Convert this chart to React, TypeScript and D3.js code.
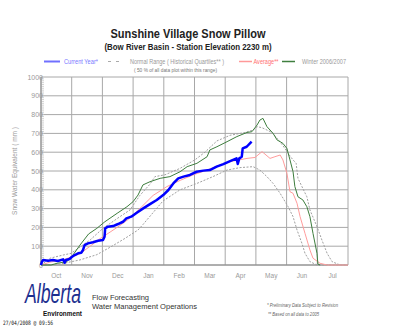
import React from "react";
import * as d3 from "d3";

const months = ["Oct", "Nov", "Dec", "Jan", "Feb", "Mar", "Apr", "May", "Jun", "Jul"];
const yTicks = [0, 100, 200, 300, 400, 500, 600, 700, 800, 900, 1000];

// [months since Oct 1, snow water equivalent mm]
const currentYear: [number, number][] = [
  [0, 0], [0.03, 18], [0.07, 27], [0.23, 23], [0.39, 27], [0.55, 21], [0.72, 30], [0.77, 12], [0.81, 27],
  [0.93, 32], [0.99, 41], [1.1, 53], [1.21, 62], [1.31, 65], [1.37, 80], [1.42, 106], [1.53, 115],
  [1.69, 121], [1.86, 129], [2.02, 133], [2.07, 150], [2.09, 195], [2.18, 204], [2.35, 207], [2.51, 218],
  [2.67, 230], [2.78, 248], [2.94, 257], [3.12, 278], [3.33, 301], [3.55, 324], [3.77, 346], [3.98, 372],
  [4.15, 399], [4.31, 434], [4.47, 461], [4.64, 470], [4.85, 479], [5.07, 496], [5.29, 502], [5.5, 505],
  [5.72, 523], [5.94, 537], [6.16, 553], [6.37, 567], [6.41, 537], [6.46, 567], [6.54, 576], [6.57, 620],
  [6.7, 629], [6.86, 656],
];

const winter0607: [number, number][] = [
  [0, 0], [0.33, 0], [0.52, 9], [0.85, 18], [1.04, 53], [1.27, 106], [1.55, 165], [1.82, 195], [2.08, 230],
  [2.48, 275], [2.8, 310], [3.0, 337], [3.16, 372], [3.32, 426], [3.55, 443], [3.88, 461], [4.2, 470],
  [4.53, 496], [4.76, 523], [5.08, 541], [5.41, 576], [5.5, 612], [5.73, 629], [6.06, 656], [6.38, 683],
  [6.71, 705], [6.87, 709], [7.04, 745], [7.13, 771], [7.23, 780], [7.36, 736], [7.56, 700], [7.69, 665],
  [7.79, 656], [7.88, 647], [8.01, 620], [8.11, 559], [8.21, 496], [8.27, 417], [8.37, 363], [8.53, 346],
  [8.66, 310], [8.76, 257], [8.86, 168], [8.99, 62], [9.02, 5], [9.09, 0],
];

const upperQuartile: [number, number][] = [
  [0, 0], [0.13, 15], [0.29, 36], [0.72, 53], [0.98, 62], [1.17, 84], [1.6, 133], [2.02, 195], [2.57, 257],
  [2.9, 293], [3.22, 370], [3.55, 430], [3.71, 470], [4.04, 480], [4.53, 514], [5.02, 560], [5.34, 600],
  [5.73, 660], [6.16, 690], [6.65, 705], [6.91, 718], [7.04, 736], [7.2, 730], [7.36, 718], [7.52, 705],
  [7.69, 674], [7.88, 635], [8.11, 580], [8.21, 559], [8.31, 541], [8.37, 461], [8.5, 417], [8.66, 363],
  [8.76, 293], [8.99, 204], [9.15, 133], [9.32, 62], [9.48, 18], [9.74, 0], [10, 0],
];

const lowerQuartile: [number, number][] = [
  [0, 0], [0.62, 5], [1.27, 27], [1.82, 55], [2.28, 97], [2.74, 142], [3.16, 186], [3.32, 215], [3.97, 340],
  [4.53, 400], [5.08, 434], [5.6, 470], [6.06, 505], [6.48, 518], [6.91, 523], [7.13, 505], [7.36, 470],
  [7.56, 434], [7.79, 381], [8.05, 310], [8.21, 257], [8.34, 186], [8.5, 115], [8.6, 62], [8.76, 18],
  [8.99, 0], [10, 0],
];

const average: [number, number][] = [
  [0, 0], [0.29, 15], [0.72, 27], [1.27, 60], [1.6, 100], [1.92, 140], [2.25, 175], [2.57, 210], [2.9, 250],
  [3.22, 300], [3.65, 370], [4.1, 417], [4.53, 450], [4.95, 479], [5.41, 505], [5.83, 532], [6.16, 550],
  [6.71, 567], [6.97, 572], [7.2, 603], [7.46, 567], [7.62, 576], [7.79, 585], [7.88, 559], [8.01, 488],
  [8.11, 390], [8.21, 381], [8.34, 328], [8.44, 257], [8.6, 168], [8.76, 80], [8.86, 36], [9.09, 9],
  [9.32, 0], [10, 0],
];

const FONT = "'Liberation Sans', Arial, sans-serif";

export default function App() {
  const x = d3.scaleLinear().domain([0, 10]).range([41, 348]);
  const y = d3.scaleLinear().domain([0, 1000]).range([265, 77]);
  const line = d3
    .line<[number, number]>()
    .x((d) => x(d[0]))
    .y((d) => y(d[1]));

  const minor = d3.range(0, 1000, 10);
  const grid = "#a8a8a8";
  const tickCol = "#9a9a9a";

  return (
    <svg
      width={400}
      height={330}
      style={{ position: "absolute", left: 0, top: 0, background: "#fff" }}
      fontFamily={FONT}
    >
      {/* title */}
      <text x={188} y={37.5} textAnchor="middle" fontSize={12} fontWeight="bold" fill="#222" textLength={155} lengthAdjust="spacingAndGlyphs">
        Sunshine Village Snow Pillow
      </text>
      <text x={188} y={50} textAnchor="middle" fontSize={8.5} fontWeight="bold" fill="#222" textLength={167} lengthAdjust="spacingAndGlyphs">
        (Bow River Basin - Station Elevation 2230 m)
      </text>

      {/* legend */}
      <line x1={44} x2={60} y1={61.5} y2={61.5} stroke="#7070ff" strokeWidth={2} />
      <text x={64} y={64} fontSize={6.5} fill="#7777ff" textLength={34} lengthAdjust="spacingAndGlyphs">Current Year*</text>
      <line x1={108} x2={120} y1={61.5} y2={61.5} stroke="#aaa" strokeWidth={1} strokeDasharray="3,5" />
      <text x={130} y={64} fontSize={6.5} fill="#999" textLength={94} lengthAdjust="spacingAndGlyphs">Normal Range ( Historical Quartiles** )</text>
      <text x={134} y={71.5} fontSize={5} fill="#777" textLength={83} lengthAdjust="spacingAndGlyphs">( 50 % of all data plot within this range)</text>
      <line x1={239} x2={252} y1={61.5} y2={61.5} stroke="#ff9999" strokeWidth={1.5} />
      <text x={253.5} y={64} fontSize={6.5} fill="#ff6f6f" textLength={25} lengthAdjust="spacingAndGlyphs">Average**</text>
      <line x1={282} x2={295} y1={61.5} y2={61.5} stroke="#3f7f3f" strokeWidth={1.5} />
      <text x={302} y={64} fontSize={6.5} fill="#9a9a9a" textLength={44} lengthAdjust="spacingAndGlyphs">Winter 2006/2007</text>

      {/* grid */}
      <g>
        {yTicks.map((t) => (
          <line key={"h" + t} x1={x(0)} x2={x(10)} y1={y(t)} y2={y(t)} stroke={grid} strokeWidth={1} />
        ))}
        {d3.range(0, 11).map((m) => (
          <line key={"v" + m} x1={x(m)} x2={x(m)} y1={y(0)} y2={y(1000)} stroke={grid} strokeWidth={1} />
        ))}
        {minor.map((t) => (
          <line key={"m" + t} x1={x(0)} x2={x(0) + 3} y1={y(t)} y2={y(t)} stroke="#c8c8c8" strokeWidth={0.8} />
        ))}
        <line x1={x(0)} x2={x(10)} y1={y(0)} y2={y(0)} stroke="#8a8a8a" strokeWidth={1} />
        <line x1={x(0)} x2={x(0)} y1={y(0)} y2={y(1000)} stroke="#8a8a8a" strokeWidth={1} />
      </g>

      {/* y tick labels */}
      {yTicks.map((t) => (
        <text key={"yl" + t} x={43} y={y(t) + 2.5} textAnchor="end" fontSize={7} fill={tickCol}>
          {t}
        </text>
      ))}
      <text
        transform={`translate(17,171) rotate(-90)`}
        textAnchor="middle"
        fontSize={6.5}
        fill={tickCol}
      >
        Snow Water Equivalent ( mm )
      </text>

      {/* month labels */}
      {months.map((m, i) => (
        <text key={m} x={x(i + 0.5)} y={277.5} textAnchor="middle" fontSize={6.5} fill={tickCol}>
          {m}
        </text>
      ))}

      {/* series */}
      <path d={line(lowerQuartile) || ""} fill="none" stroke="#a0a0a0" strokeWidth={1} strokeDasharray="2,1.5" />
      <path d={line(upperQuartile) || ""} fill="none" stroke="#a0a0a0" strokeWidth={1} strokeDasharray="2,1.5" />
      <path d={line(average) || ""} fill="none" stroke="#ff9c9c" strokeWidth={1} />
      <path d={line(winter0607) || ""} fill="none" stroke="#3d7d3d" strokeWidth={1} />
      <path d={line(currentYear) || ""} fill="none" stroke="#0000ff" strokeWidth={2.5} strokeLinejoin="round" />

      {/* footer */}
      <text transform="translate(25,303) scale(1,1.45)" fontSize={18.5} fontStyle="italic" fill="#1d2f8f" textLength={56} lengthAdjust="spacingAndGlyphs">
        Alberta
      </text>
      <text x={43} y={316} fontSize={7} fontWeight="bold" fill="#111" textLength={39} lengthAdjust="spacingAndGlyphs">
        Environment
      </text>
      <text x={92} y={300} fontSize={7.5} fill="#333" textLength={57} lengthAdjust="spacingAndGlyphs">
        Flow Forecasting
      </text>
      <text x={92} y={309} fontSize={7.5} fill="#333" textLength={105} lengthAdjust="spacingAndGlyphs">
        Water Management Operations
      </text>
      <text x={267} y={307} fontSize={4.8} fontStyle="italic" fill="#666" textLength={71} lengthAdjust="spacingAndGlyphs">
        *  Preliminary Data Subject to Revision
      </text>
      <text x={268} y={316} fontSize={4.8} fontStyle="italic" fill="#666" textLength={51} lengthAdjust="spacingAndGlyphs">
        ** Based on all data to 2005
      </text>
      <text x={3} y={325} fontSize={6} fill="#111" fontFamily="'DejaVu Sans Mono', monospace" textLength={50} lengthAdjust="spacingAndGlyphs">
        27/04/2008 @ 09:56
      </text>
    </svg>
  );
}
